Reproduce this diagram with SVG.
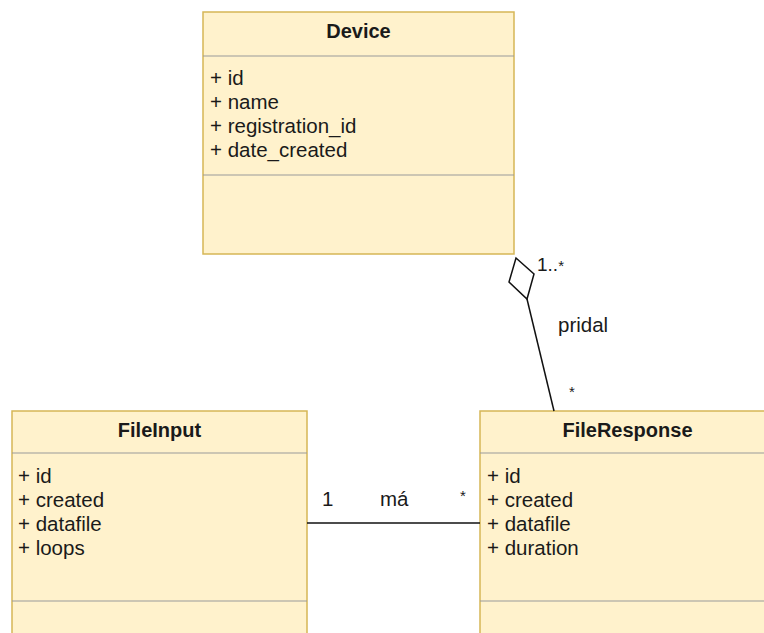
<svg xmlns="http://www.w3.org/2000/svg" width="764" height="633" viewBox="0 0 764 633">
<style>
.box{fill:#fff2cc;stroke:#d6b656;stroke-width:1.5}
.div{stroke:#9a9a9a;stroke-width:1.2}
.t{font-family:"Liberation Sans",Arial,sans-serif;font-size:20.5px;fill:#1a1a1a}
.h{font-weight:bold;text-anchor:middle;font-size:20px}
.s{font-size:15px}
.edge{stroke:#111;stroke-width:1.5;fill:none}
</style>
<rect width="764" height="633" fill="#ffffff"/>
<g id="device">
<rect class="box" x="203" y="12" width="311" height="242"/>
<line class="div" x1="203" y1="56" x2="514" y2="56"/>
<line class="div" x1="203" y1="175" x2="514" y2="175"/>
<text class="t h" x="358.5" y="38">Device</text>
<text class="t" x="210" y="85">+ id</text>
<text class="t" x="210" y="109">+ name</text>
<text class="t" x="210" y="133">+ registration_id</text>
<text class="t" x="210" y="157">+ date_created</text>
</g>
<g id="fileinput">
<rect class="box" x="12" y="411" width="295" height="240"/>
<line class="div" x1="12" y1="453" x2="307" y2="453"/>
<line class="div" x1="12" y1="601" x2="307" y2="601"/>
<text class="t h" x="159.5" y="437">FileInput</text>
<text class="t" x="18" y="483">+ id</text>
<text class="t" x="18" y="507">+ created</text>
<text class="t" x="18" y="531">+ datafile</text>
<text class="t" x="18" y="555">+ loops</text>
</g>
<g id="fileresponse">
<rect class="box" x="480" y="411" width="295" height="240"/>
<line class="div" x1="480" y1="453" x2="775" y2="453"/>
<line class="div" x1="480" y1="601" x2="775" y2="601"/>
<text class="t h" x="627.5" y="437">FileResponse</text>
<text class="t" x="487" y="483">+ id</text>
<text class="t" x="487" y="507">+ created</text>
<text class="t" x="487" y="531">+ datafile</text>
<text class="t" x="487" y="555">+ duration</text>
</g>
<g id="connectors">
<polygon class="edge" points="516,258 534,274 527,299 509,282" style="fill:#ffffff"/>
<line class="edge" x1="527" y1="299" x2="554" y2="411"/>
<line class="edge" x1="307" y1="523" x2="480" y2="523"/>
<text class="t" x="537" y="271" style="font-size:19px">1..<tspan class="s">*</tspan></text>
<text class="t" x="558" y="332">pridal</text>
<text class="t s" x="569" y="397">*</text>
<text class="t" x="322" y="506">1</text>
<text class="t" x="380" y="506">má</text>
<text class="t s" x="460" y="501">*</text>
</g>
</svg>
